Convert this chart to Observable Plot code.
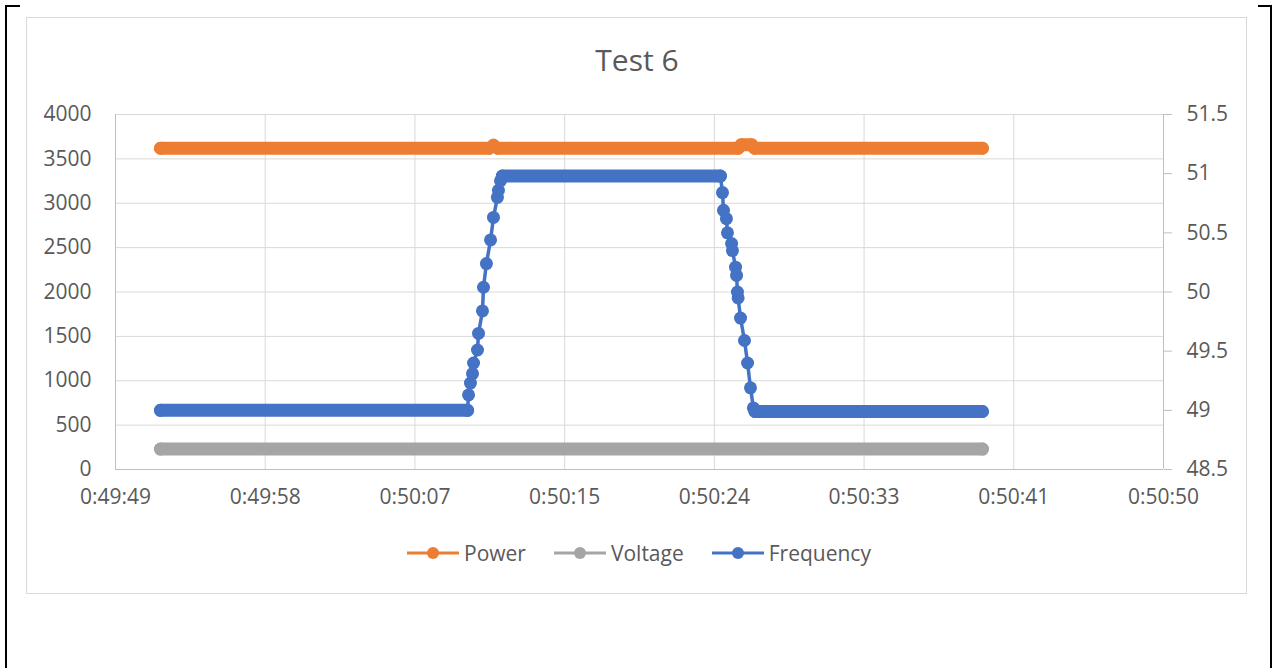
<!DOCTYPE html>
<html>
<head>
<meta charset="utf-8">
<script src="https://cdn.jsdelivr.net/npm/d3@7"></script>
<script src="https://cdn.jsdelivr.net/npm/@observablehq/plot@0.6"></script>
<style>
  html, body { margin: 0; padding: 0; background: #fff; }
  #page { position: relative; width: 1274px; height: 668px; overflow: hidden; font-family: "Open Sans", sans-serif; color: #595959; }
  .bd { position: absolute; background: #000; }
  #box { position: absolute; left: 26px; top: 17px; width: 1221px; height: 577px; border: 1px solid #d9d9d9; box-sizing: border-box; }
  #title { position: absolute; left: 0; top: 45px; width: 1274px; text-align: center; font-size: 30px; line-height: 30px; color: #595959; }
  #chart { position: absolute; left: 26px; top: 90px; }
  #legend { position: absolute; left: 407px; top: 540px; display: flex; align-items: center; font-size: 21px; line-height: 26px; color: #595959; }
  .item { display: flex; align-items: center; margin-right: 28px; }
  .item svg { margin-right: 5px; }
</style>
</head>
<body>
<div id="page">
  <div class="bd" style="left:5px;top:5px;width:2px;height:663px"></div>
  <div class="bd" style="left:5px;top:5px;width:15px;height:2px"></div>
  <div class="bd" style="left:1270px;top:5px;width:2px;height:663px"></div>
  <div class="bd" style="left:1258px;top:5px;width:14px;height:2px"></div>
  <div id="box"></div>
  <div id="title">Test 6</div>
  <div id="chart"></div>
  <div id="legend"></div>
</div>
<script>
// Time is in seconds after 0:49:49
const xDomain = [0, 61];
const xTickLabels = ["0:49:49", "0:49:58", "0:50:07", "0:50:15", "0:50:24", "0:50:33", "0:50:41", "0:50:50"];
const powerTicks = [0, 500, 1000, 1500, 2000, 2500, 3000, 3500, 4000];
const freqTicks = [48.5, 49, 49.5, 50, 50.5, 51, 51.5];
const seriesNames = ["Power", "Voltage", "Frequency"];
const seriesColors = ["#ED7D31", "#A5A5A5", "#4472C4"];

// Power (W), left axis
const powerT = [2.62, 21.75, 22.00, 22.25, 36.25, 36.43, 37.02, 37.20, 50.46];
const powerV = [3620, 3620, 3655, 3620, 3620, 3660, 3660, 3620, 3620];

// Voltage (V), left axis
const voltageT = [2.62, 50.46];
const voltageV = [230, 230];

// Frequency (Hz), right axis
const freqT = [2.62, 20.49, 20.55, 20.66, 20.78, 20.84, 21.07, 21.13, 21.36, 21.42, 21.59, 21.83, 22.00, 22.23, 22.29, 22.41, 22.52,
               35.21, 35.33, 35.39, 35.56, 35.62, 35.86, 35.91, 36.09, 36.15, 36.20, 36.24, 36.38, 36.61, 36.79, 36.96, 37.13, 37.22, 50.46];
const freqV = [49.0, 49.0, 49.13, 49.23, 49.31, 49.40, 49.51, 49.65, 49.84, 50.04, 50.24, 50.44, 50.63, 50.80, 50.86, 50.94, 50.98,
               50.98, 50.84, 50.69, 50.62, 50.50, 50.41, 50.35, 50.21, 50.14, 50.00, 49.95, 49.78, 49.59, 49.40, 49.19, 49.02, 48.99, 48.99];

const fmin = 48.5, fmax = 51.5, pmax = 4000;
const f2y = f => (f - fmin) * pmax / (fmax - fmin);
const y2f = y => y * (fmax - fmin) / pmax + fmin;

const xTicks = xTickLabels.map((_, i) => xDomain[0] + i * (xDomain[1] - xDomain[0]) / (xTickLabels.length - 1));

const powerPts = powerT.map((t, i) => ({t, y: powerV[i]}));
const voltPts = voltageT.map((t, i) => ({t, y: voltageV[i]}));
const freqPts = freqT.map((t, i) => ({t, y: f2y(freqV[i])}));

function flatRuns(pts) {
  const out = [];
  for (let i = 1; i < pts.length; i++) if (pts[i].y === pts[i - 1].y) out.push({t1: pts[i - 1].t, t2: pts[i].t, y: pts[i].y});
  return out;
}

function seriesMarks(pts, color) {
  return [
    Plot.link(flatRuns(pts), {x1: "t1", x2: "t2", y1: "y", y2: "y", stroke: color, strokeWidth: 13, strokeLinecap: "round"}),
    Plot.line(pts, {x: "t", y: "y", stroke: color, strokeWidth: 3.5}),
    Plot.dot(pts, {x: "t", y: "y", r: 6.5, fill: color, stroke: "none"})
  ];
}

const chart = Plot.plot({
  width: 1220,
  height: 440,
  marginLeft: 89,
  marginRight: 83,
  marginTop: 24,
  marginBottom: 61,
  style: {fontFamily: "'Open Sans', sans-serif", fontSize: "21px", color: "#595959", background: "transparent"},
  x: {domain: xDomain},
  y: {domain: [0, pmax]},
  marks: [
    Plot.gridY(powerTicks, {stroke: "#d9d9d9", strokeOpacity: 1, strokeWidth: 1}),
    Plot.gridX(xTicks, {stroke: "#d9d9d9", strokeOpacity: 1, strokeWidth: 1}),
    Plot.ruleX([xDomain[0], xDomain[1]], {stroke: "#bfbfbf"}),
    Plot.ruleY([0], {stroke: "#bfbfbf"}),
    Plot.axisY(powerTicks, {anchor: "left", tickSize: 0, tickPadding: 24, label: null, fill: "#595959",
      tickFormat: d => String(d)}),
    Plot.axisY(freqTicks.map(f2y), {anchor: "right", tickSize: 8, tickPadding: 15, label: null, stroke: "#bfbfbf", fill: "#595959",
      tickFormat: d => String(+y2f(d).toFixed(2))}),
    Plot.axisX(xTicks, {anchor: "bottom", tickSize: 0, tickPadding: 20, label: null, fill: "#595959",
      tickFormat: d => xTickLabels[xTicks.indexOf(d)]}),
    ...seriesMarks(powerPts, seriesColors[0]),
    ...seriesMarks(voltPts, seriesColors[1]),
    ...seriesMarks(freqPts, seriesColors[2])
  ]
});
document.getElementById("chart").appendChild(chart);

const legend = document.getElementById("legend");
seriesNames.forEach((name, i) => {
  const item = document.createElement("div");
  item.className = "item";
  item.innerHTML = `<svg width="52" height="14"><line x1="0" y1="7" x2="52" y2="7" stroke="${seriesColors[i]}" stroke-width="3"/><circle cx="26" cy="7" r="6" fill="${seriesColors[i]}"/></svg><span>${name}</span>`;
  legend.appendChild(item);
});
</script>
</body>
</html>
